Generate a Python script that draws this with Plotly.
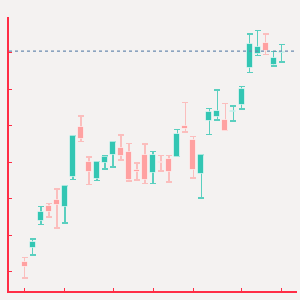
import plotly.graph_objects as go

# ---- data ----
idx = list(range(33))
opens  = [12.8, 16.7, 24.0, 28.1, 29.7, 27.7, 36.1, 49.6, 40.0, 35.4, 39.9, 42.1, 44.0, 42.8, 37.9, 42.0, 37.0,
          40.1, 41.0, 41.6, 50.1, 46.2, 36.8, 51.3, 52.5, 51.6, 53.9, 55.8, 65.8, 69.6, 72.7, 66.6, 70.1]
closes = [11.3, 18.3, 26.5, 26.4, 28.3, 33.6, 47.3, 46.3, 37.5, 40.1, 41.6, 45.6, 41.9, 35.2, 37.4, 35.2, 42.1,
          39.8, 37.5, 47.9, 49.1, 37.9, 42.0, 53.8, 54.1, 48.7, 54.1, 60.1, 72.4, 71.6, 70.5, 68.7, 70.4]
highs  = [14.0, 19.0, 27.9, 28.7, 32.8, 33.6, 47.3, 52.8, 41.5, 40.3, 41.8, 45.6, 47.5, 45.2, 39.8, 45.0, 43.0,
          41.9, 41.9, 49.1, 56.4, 47.1, 42.0, 54.8, 59.9, 56.1, 55.5, 60.8, 75.2, 76.1, 75.2, 70.4, 72.3]
lows   = [8.4, 14.6, 23.0, 25.0, 22.1, 23.4, 35.4, 45.8, 34.0, 35.1, 38.2, 38.8, 40.7, 34.9, 35.2, 34.3, 34.3,
          37.7, 34.6, 41.6, 48.4, 35.8, 30.3, 47.7, 51.6, 48.7, 51.3, 54.6, 64.6, 69.3, 69.6, 66.4, 67.5]
ref_level = 70.5
x_tick_idx = [0, 5, 11, 16, 21, 27, 32]
y_tick_vals = [10, 20, 30, 40, 50, 60, 70]

UP = "#33c6b3"
DOWN = "#ffa1a1"
UP_WICK = "rgba(51,198,179,0.8)"
DOWN_WICK = "rgba(255,161,161,0.65)"
BG = "#f4f2f1"
AXIS = "#ff2d45"

fig = go.Figure()

# whiskers (error bars carried by invisible bars), split by direction
for up, col in ((True, UP_WICK), (False, DOWN_WICK)):
    sel = [i for i in idx if (closes[i] >= opens[i]) == up]
    fig.add_trace(go.Bar(
        x=[idx[i] for i in sel],
        base=[lows[i] for i in sel],
        y=[highs[i] - lows[i] for i in sel],
        width=0.75,
        marker=dict(color="rgba(0,0,0,0)", line=dict(width=0)),
        error_y=dict(type="data", symmetric=False,
                     array=[0] * len(sel),
                     arrayminus=[highs[i] - lows[i] for i in sel],
                     color=col, thickness=1.5, width=3),
        hoverinfo="skip", showlegend=False,
    ))

# bodies
fig.add_trace(go.Bar(
    x=idx,
    base=[min(o, c) for o, c in zip(opens, closes)],
    y=[max(abs(c - o), 0.25) for o, c in zip(opens, closes)],
    width=0.75,
    marker=dict(color=[UP if c >= o else DOWN for o, c in zip(opens, closes)],
                line=dict(color="rgba(255,255,255,0.55)", width=1)),
    showlegend=False,
))

fig.add_hline(y=ref_level, line=dict(color="#6a8bb0", width=1.2, dash="dot"))

fig.update_layout(
    width=300, height=300,
    margin=dict(l=9, r=3, t=17, b=9),
    paper_bgcolor=BG, plot_bgcolor=BG,
    barmode="overlay", bargap=0,
    showlegend=False,
)
fig.update_xaxes(range=[-1.955, 33.91], showgrid=False, zeroline=False,
                 showline=True, linecolor=AXIS, linewidth=2,
                 tickmode="array", tickvals=x_tick_idx, showticklabels=False,
                 ticks="inside", ticklen=3, tickcolor=AXIS, tickwidth=1)
fig.update_yaxes(range=[4.79, 79.86], showgrid=False, zeroline=False,
                 showline=True, linecolor=AXIS, linewidth=2,
                 tickmode="array", tickvals=y_tick_vals, showticklabels=False,
                 ticks="inside", ticklen=3, tickcolor=AXIS, tickwidth=1)

fig.write_html("out.html")
